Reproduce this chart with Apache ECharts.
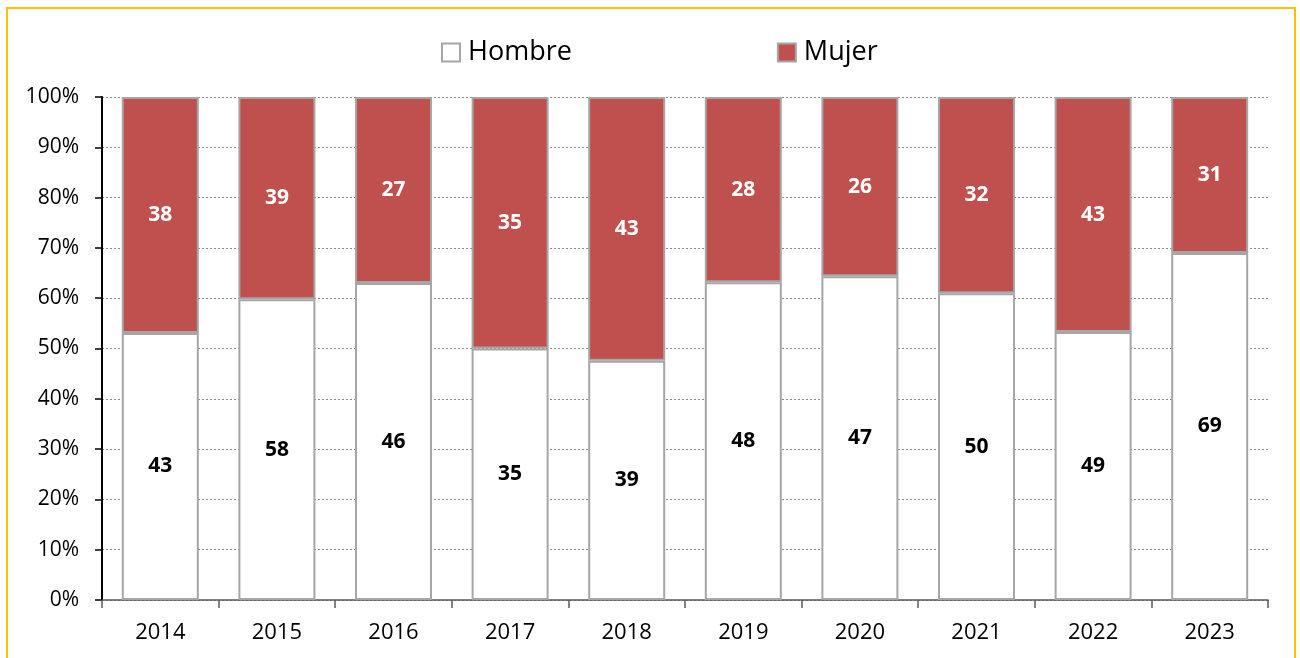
<!DOCTYPE html>
<html>
<head>
<meta charset="utf-8">
<script src="https://cdn.jsdelivr.net/npm/echarts@6/dist/echarts.min.js"></script>
<style>
  html, body { margin: 0; padding: 0; background: #fff; }
  #chart { width: 1300px; height: 658px; }
</style>
</head>
<body>
<div id="chart"></div>
<script>
// Years on the category axis
const years = ['2014', '2015', '2016', '2017', '2018', '2019', '2020', '2021', '2022', '2023'];
// Counts per year
const hombre = [43, 58, 46, 35, 39, 48, 47, 50, 49, 69];
const mujer = [38, 39, 27, 35, 43, 28, 26, 32, 43, 31];
// Y axis tick values (percent)
const yTicks = [0, 10, 20, 30, 40, 50, 60, 70, 80, 90, 100];

// Share of each group in the yearly total; the label shows the count
function share(arr, i) {
  const total = hombre[i] + mujer[i];
  return { value: arr[i] / total * 100, count: arr[i] };
}
const hombreData = years.map((_, i) => share(hombre, i));
const mujerData = years.map((_, i) => share(mujer, i));

const FONT = 'Open Sans';

const chart = echarts.init(document.getElementById('chart'), null, { renderer: 'canvas' });
chart.setOption({
  animation: false,
  backgroundColor: '#ffffff',
  textStyle: { fontFamily: FONT },
  graphic: [{
    type: 'rect',
    shape: { x: 7, y: 8, width: 1288, height: 700 },
    style: { fill: 'none', stroke: '#FFC000', lineWidth: 2 },
    silent: true,
    z: 100
  }],
  legend: {
    left: 441,
    top: 39,
    padding: 0,
    itemWidth: 18,
    itemHeight: 18,
    itemGap: 205,
    icon: 'rect',
    textStyle: { fontSize: 27, color: '#000', fontFamily: FONT, padding: [0, 0, 0, 3] },
    data: ['Hombre', 'Mujer']
  },
  grid: { left: 102, right: 32, top: 97, bottom: 58, containLabel: false },
  xAxis: {
    type: 'category',
    data: years,
    axisLine: { show: true, lineStyle: { color: '#595959', width: 1.5 } },
    axisTick: { show: true, length: 8, inside: false, alignWithLabel: false, lineStyle: { color: '#595959', width: 1.5 } },
    axisLabel: { fontSize: 22, color: '#000', margin: 22, fontFamily: FONT },
    splitLine: { show: false }
  },
  yAxis: {
    type: 'value',
    min: 0,
    max: 100,
    interval: 10,
    axisLine: { show: true, lineStyle: { color: '#000', width: 2 } },
    axisTick: { show: true, length: 7, lineStyle: { color: '#000', width: 1.5 } },
    axisLabel: {
      fontSize: 21, color: '#000', margin: 23, fontFamily: FONT,
      formatter: v => (yTicks.includes(v) ? v + '%' : '')
    },
    splitLine: { show: true, lineStyle: { color: '#8c8c8c', type: [2, 2], width: 1 } }
  },
  series: [
    {
      name: 'Hombre',
      type: 'bar',
      stack: 'total',
      barWidth: 77,
      data: hombreData,
      itemStyle: { color: '#ffffff', borderColor: '#A6A6A6', borderWidth: 2 },
      label: {
        show: true, position: 'inside', fontSize: 21, fontWeight: 'bold', color: '#000',
        fontFamily: FONT, formatter: p => p.data.count
      }
    },
    {
      name: 'Mujer',
      type: 'bar',
      stack: 'total',
      barWidth: 77,
      data: mujerData,
      itemStyle: { color: '#C0504D', borderColor: '#A6A6A6', borderWidth: 2 },
      label: {
        show: true, position: 'inside', fontSize: 21, fontWeight: 'bold', color: '#fff',
        fontFamily: FONT, formatter: p => p.data.count
      }
    }
  ]
});
</script>
</body>
</html>
